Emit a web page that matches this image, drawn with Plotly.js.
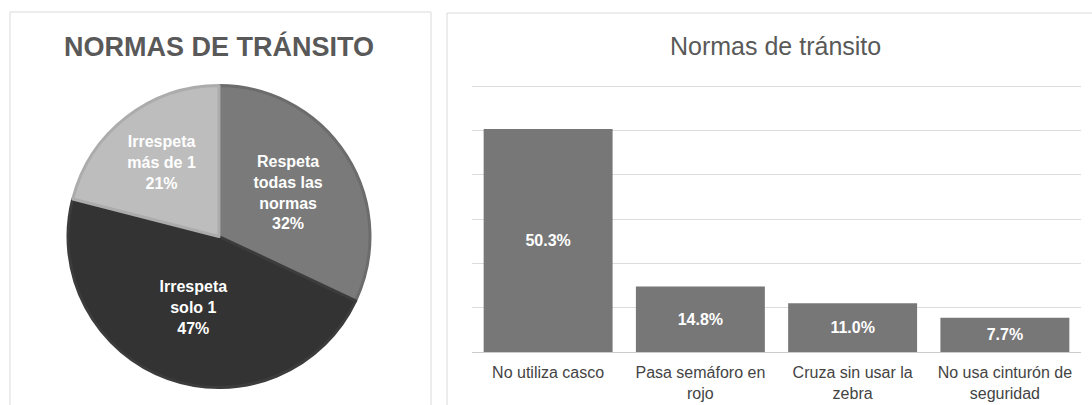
<!DOCTYPE html>
<html>
<head>
<meta charset="utf-8">
<script src="https://cdn.plot.ly/plotly-3.0.1.min.js"></script>
<style>html,body{margin:0;padding:0;background:#fff;}#chart{width:1092px;height:405px;}</style>
</head>
<body>
<div id="chart"></div>
<script>
// Pie data
const pieLabels = ["Respeta<br>todas las<br>normas", "Irrespeta<br>solo 1", "Irrespeta<br>más de 1"];
const pieValues = [32, 47, 21];
const pieColors = ["#7a7a7a", "#333333", "#bdbdbd"];
const pieEdge = ["#6c6c6c", "#3c3c3c", "#acacac"];

// Bar data
const barCategories = ["No utiliza casco", "Pasa semáforo en<br>rojo", "Cruza sin usar la<br>zebra", "No usa cinturón de<br>seguridad"];
const barValues = [50.3, 14.8, 11.0, 7.7];
const barColor = "#777777";

const W = 1092, H = 405;
const px = v => v / W;
const py = v => (H - v) / H;
const FONT = "Liberation Sans, Arial, Helvetica, sans-serif";

const traces = [
  {
    type: "pie",
    labels: pieLabels,
    values: pieValues,
    sort: false,
    direction: "clockwise",
    rotation: 0,
    marker: {colors: pieColors, line: {color: pieEdge, width: 3}},
    texttemplate: "%{label}<br>%{value}%",
    textposition: "inside",
    insidetextorientation: "horizontal",
    textfont: {family: FONT, size: 16, color: "#ffffff", weight: "bold"},
    domain: {x: [px(68), px(370)], y: [py(388), py(85)]},
    showlegend: false,
    hoverinfo: "skip"
  },
  {
    type: "bar",
    x: barCategories,
    y: barValues,
    marker: {color: barColor},
    texttemplate: "%{y:.1f}%",
    textposition: "inside",
    insidetextanchor: "middle",
    textfont: {family: FONT, size: 16, color: "#ffffff", weight: "bold"},
    cliponaxis: false,
    showlegend: false,
    hoverinfo: "skip",
    xaxis: "x",
    yaxis: "y"
  }
];

const layout = {
  width: W, height: H,
  margin: {l: 0, r: 0, t: 0, b: 0},
  paper_bgcolor: "#ffffff",
  plot_bgcolor: "#ffffff",
  font: {family: FONT, color: "#444444"},
  showlegend: false,
  bargap: 0.153,
  xaxis: {
    domain: [px(472), px(1081)],
    anchor: "y",
    showgrid: false, showline: false, ticks: "",
    ticklabelstandoff: 9,
    tickfont: {family: FONT, size: 16, color: "#444444"},
    automargin: false
  },
  yaxis: {
    domain: [py(352), py(84.7)],
    anchor: "x",
    range: [0, 60.3],
    tick0: 0,
    dtick: 10,
    showticklabels: false,
    showgrid: true, gridcolor: "#dcdcdc", gridwidth: 1,
    zeroline: true, zerolinecolor: "#cccccc", zerolinewidth: 1,
    showline: false, ticks: "",
    automargin: false
  },
  annotations: [
    {text: "<b>NORMAS DE TRÁNSITO</b>", x: px(219), y: py(47), xref: "paper", yref: "paper",
     xanchor: "center", yanchor: "middle", showarrow: false,
     font: {family: FONT, size: 27, color: "#595959"}},
    {text: "Normas de tránsito", x: px(775), y: py(46), xref: "paper", yref: "paper",
     xanchor: "center", yanchor: "middle", showarrow: false,
     font: {family: FONT, size: 25, color: "#595959"}}
  ],
  shapes: [
    {type: "rect", xref: "paper", yref: "paper", x0: px(10), x1: px(431), y0: -0.05, y1: py(12),
     line: {color: "#dadada", width: 1}, fillcolor: "rgba(0,0,0,0)", layer: "below"},
    {type: "rect", xref: "paper", yref: "paper", x0: px(447), x1: 1.05, y0: -0.05, y1: py(13),
     line: {color: "#dadada", width: 1}, fillcolor: "rgba(0,0,0,0)", layer: "below"}
  ]
};

Plotly.newPlot("chart", traces, layout, {displayModeBar: false, staticPlot: true});
</script>
</body>
</html>
